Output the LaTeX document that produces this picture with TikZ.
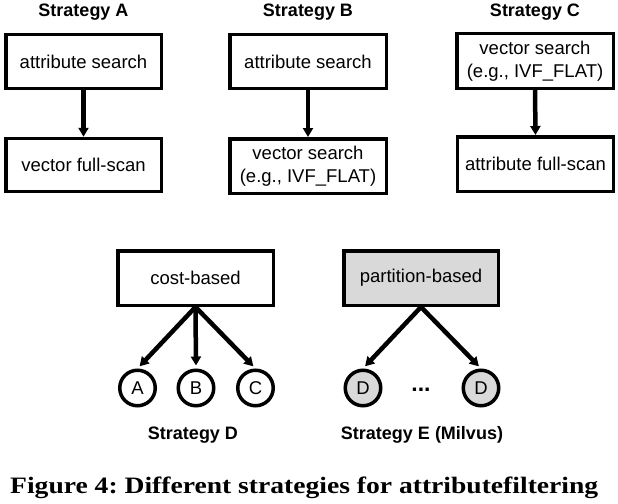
\documentclass[tikz,border=0pt]{standalone}
\usepackage{graphicx}
\usepackage{fontspec}
\setmainfont{Liberation Sans}
\newfontfamily\capfont{Liberation Serif}
\usetikzlibrary{arrows.meta}
\definecolor{boxgray}{HTML}{D9D9D9}
\begin{document}
\frenchspacing
\begin{tikzpicture}[x=1pt,y=-1pt,
  box/.style={draw, line width=3.5pt, inner sep=0pt, align=center,
    font=\fontsize{18.5}{22.5}\selectfont},
  ttl/.style={font=\bfseries\fontsize{18}{20}\selectfont, anchor=base, inner sep=0pt},
  circ/.style={draw, circle, line width=3.5pt, minimum size=35.5pt, inner sep=0pt,
    font=\fontsize{18.5}{20}\selectfont},
  arr/.style={line width=4.5pt, -{Triangle[width=10pt,length=9pt]}},
  arrd/.style={arr, shorten >=3pt},
]
\fill[white] (0,0) rectangle (618,503);
\useasboundingbox (0,0) rectangle (618,503);

% titles
\node[ttl] (tA) at (83.5,17) {Strategy A};
\node[ttl] (tB) at (308,17) {Strategy B};
\node[ttl] (tC) at (535,17) {Strategy C};

% strategy A
\node[box, minimum width=155.5pt, minimum height=53.5pt] (a1) at (83.5,61.5) {attribute search};
\node[box, minimum width=155.5pt, minimum height=53pt] (a2) at (83.5,165) {vector full-scan};
\draw[arr] (a1.south) -- (a2.north);

% strategy B
\node[box, minimum width=156.5pt, minimum height=53.5pt] (b1) at (308,61.5) {attribute search};
\node[box, minimum width=156.5pt, minimum height=54.5pt] (b2) at (308,166) {vector search\\(e.g., IVF\_FLAT)};
\draw[arr] (b1.south) -- (b2.north);

% strategy C
\node[box, minimum width=156.5pt, minimum height=54.5pt] (c1) at (535,61) {vector search\\(e.g., IVF\_FLAT)};
\node[box, minimum width=156pt, minimum height=54.5pt] (c2) at (535.5,164) {attribute full-scan};
\draw[arr] (c1.south) -- (c2.north);

% strategy D
\node[box, minimum width=155.5pt, minimum height=54.5pt] (cost) at (195.5,278) {cost-based};
\node[circ] (cA) at (137.5,388) {A};
\node[circ] (cB) at (196,388) {B};
\node[circ] (cC) at (255.5,388) {C};
\draw[arrd] (cost.south) -- (cA.north);
\draw[arrd] (cost.south) -- (cB.north);
\draw[arrd] (cost.south) -- (cC.north);
\node[ttl] (tD) at (193,439) {Strategy D};

% strategy E
\node[box, fill=boxgray, minimum width=154.5pt, minimum height=54.5pt] (part) at (421,278) {partition-based};
\node[circ, fill=boxgray] (d1) at (363,388) {D};
\node[circ, fill=boxgray] (d2) at (481,388) {D};
\node[font=\bfseries\fontsize{23}{24}\selectfont, inner sep=0pt] (dots) at (421,390) {...};
\draw[arrd] (part.south) -- (d1.north);
\draw[arrd] (part.south) -- (d2.north);
\node[ttl] (tE) at (422,439) {Strategy E (Milvus)};

% caption
\node[anchor=base west, inner sep=0pt] (cap) at (10,493)
  {\resizebox{588pt}{\height}{\capfont\bfseries\fontsize{23.5}{28}\selectfont Figure 4: Different strategies for attributefiltering}};
\end{tikzpicture}
\end{document}
